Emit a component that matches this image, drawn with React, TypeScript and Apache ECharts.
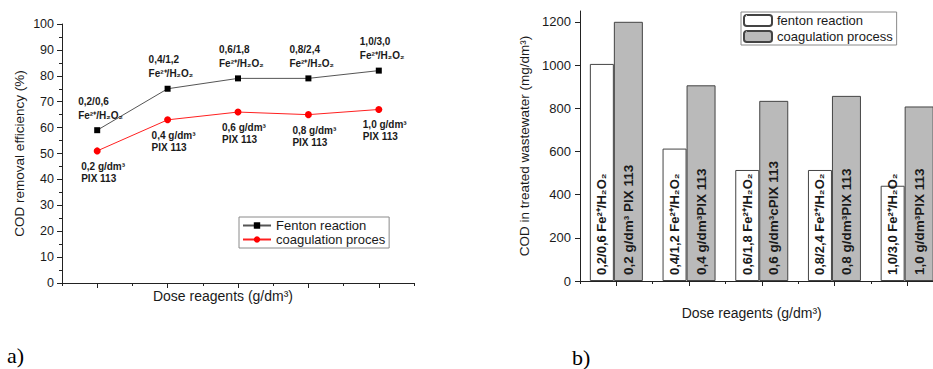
import React, { useEffect, useRef } from "react";
import * as echarts from "echarts";

// ---------- data ----------
const doseCategories = ["0,2", "0,4", "0,6", "0,8", "1,0"];

// panel a) COD removal efficiency (%)
const fentonEfficiency = [59, 75, 79, 79, 82];
const coagulationEfficiency = [51, 63, 66, 65, 67];
const fentonPointLabels = [
  "0,2/0,6\nFe²⁺/H₂O₂",
  "0,4/1,2\nFe²⁺/H₂O₂",
  "0,6/1,8\nFe²⁺/H₂O₂",
  "0,8/2,4\nFe²⁺/H₂O₂",
  "1,0/3,0\nFe²⁺/H₂O₂",
];
const coagulationPointLabels = [
  "0,2 g/dm³\nPIX 113",
  "0,4 g/dm³\nPIX 113",
  "0,6 g/dm³\nPIX 113",
  "0,8 g/dm³\nPIX 113",
  "1,0 g/dm³\nPIX 113",
];

// panel b) COD in treated wastewater (mg/dm3)
const fentonCOD = [1005, 613, 514, 514, 441];
const coagulationCOD = [1200, 906, 834, 857, 808];
const fentonBarLabels = [
  "0,2/0,6 Fe²⁺/H₂O₂",
  "0,4/1,2 Fe²⁺/H₂O₂",
  "0,6/1,8 Fe²⁺/H₂O₂",
  "0,8/2,4 Fe²⁺/H₂O₂",
  "1,0/3,0 Fe²⁺/H₂O₂",
];
const coagulationBarLabels = [
  "0,2 g/dm³ PIX 113",
  "0,4 g/dm³PIX 113",
  "0,6 g/dm³cPIX 113",
  "0,8 g/dm³PIX 113",
  "1,0 g/dm³PIX 113",
];
const codMajorTicks = [0, 200, 400, 600, 800, 1000, 1200];
const codMinorTicks = [100, 300, 500, 700, 900, 1100];

// ---------- styling ----------
const SANS = 'Arial, "Liberation Sans", sans-serif';
const SERIF = '"Liberation Serif", "Times New Roman", serif';
const AXIS_COLOR = "#222";
const TEXT_COLOR = "#1a1a1a";

const axisLine = { show: true, lineStyle: { color: AXIS_COLOR, width: 1 } };

function majorCategoryAxis(gridIndex: number, nameGap: number, padRight: number) {
  return {
    type: "category",
    gridIndex,
    data: doseCategories,
    boundaryGap: true,
    axisLine,
    axisTick: { show: true, alignWithLabel: true, interval: 0, length: 5, lineStyle: { color: AXIS_COLOR } },
    axisLabel: { show: false },
    splitLine: { show: false },
    name: "Dose reagents (g/dm³)",
    nameLocation: "middle",
    nameGap,
    nameTextStyle: { fontSize: 14, color: TEXT_COLOR, fontFamily: SANS, padding: [0, padRight, 0, 0] },
  };
}

function minorCategoryAxis(gridIndex: number) {
  return {
    type: "category",
    gridIndex,
    position: "bottom",
    data: doseCategories,
    boundaryGap: true,
    axisLine: { show: false },
    axisTick: { show: true, alignWithLabel: false, interval: 0, length: 3, lineStyle: { color: AXIS_COLOR } },
    axisLabel: { show: false },
    splitLine: { show: false },
  };
}

const plainNumber = (v: number) => String(v);

const option: any = {
  animation: false,
  backgroundColor: "#fff",
  grid: [
    { left: 62, top: 24, width: 352, height: 259 },
    { left: 580, top: 11, width: 363.5, height: 270 },
  ],
  xAxis: [
    majorCategoryAxis(0, 6, 30),
    minorCategoryAxis(0),
    majorCategoryAxis(1, 25, 20),
    minorCategoryAxis(1),
  ],
  yAxis: [
    {
      type: "value",
      gridIndex: 0,
      min: 0,
      max: 100,
      interval: 10,
      axisLine,
      axisTick: { show: true, length: 5, lineStyle: { color: AXIS_COLOR } },
      minorTick: { show: true, splitNumber: 2, length: 3, lineStyle: { color: AXIS_COLOR } },
      splitLine: { show: false },
      minorSplitLine: { show: false },
      axisLabel: { fontSize: 12.5, color: TEXT_COLOR, fontFamily: SANS, margin: 8, formatter: plainNumber },
      name: "COD removal efficiency (%)",
      nameLocation: "middle",
      nameGap: 36,
      nameTextStyle: { fontSize: 13.5, color: TEXT_COLOR, fontFamily: SANS },
    },
    {
      type: "value",
      gridIndex: 1,
      min: 0,
      max: 1250,
      axisLine,
      axisTick: { show: true, length: 5, customValues: codMajorTicks, lineStyle: { color: AXIS_COLOR } },
      splitLine: { show: false },
      axisLabel: {
        fontSize: 13,
        color: TEXT_COLOR,
        fontFamily: SANS,
        margin: 9,
        customValues: codMajorTicks,
        formatter: plainNumber,
      },
      name: "COD in treated wastewater (mg/dm³)",
      nameLocation: "middle",
      nameGap: 49,
      nameTextStyle: { fontSize: 13.5, color: TEXT_COLOR, fontFamily: SANS },
    },
    {
      type: "value",
      gridIndex: 1,
      min: 0,
      max: 1250,
      axisLine: { show: false },
      axisTick: { show: true, length: 3, customValues: codMinorTicks, lineStyle: { color: AXIS_COLOR } },
      splitLine: { show: false },
      axisLabel: { show: false },
    },
  ],
  legend: [
    {
      data: ["Fenton reaction", "coagulation proces"],
      orient: "vertical",
      left: 239,
      top: 217,
      padding: [2, 4, 2, 3],
      itemGap: 1,
      itemWidth: 28,
      itemHeight: 8,
      borderColor: "#8a8a8a",
      borderWidth: 1,
      selectedMode: false,
      textStyle: { fontSize: 13, color: TEXT_COLOR, fontFamily: SANS },
    },
    {
      data: ["fenton reaction", "coagulation process"],
      orient: "vertical",
      left: 741,
      top: 12,
      padding: [2, 4, 2, 2],
      itemGap: 3,
      itemWidth: 28,
      itemHeight: 11,
      borderColor: "#8a8a8a",
      borderWidth: 1,
      selectedMode: false,
      textStyle: { fontSize: 13, color: TEXT_COLOR, fontFamily: SANS },
    },
  ],
  series: [
    {
      name: "Fenton reaction",
      type: "line",
      xAxisIndex: 0,
      yAxisIndex: 0,
      data: fentonEfficiency,
      symbol: "rect",
      symbolSize: 6,
      itemStyle: { color: "#000" },
      lineStyle: { color: "#555", width: 1 },
      label: {
        show: true,
        position: "top",
        align: "left",
        offset: [-19, 0],
        distance: 5,
        formatter: (p: any) => fentonPointLabels[p.dataIndex],
        fontSize: 10,
        fontWeight: "bold",
        lineHeight: 14,
        color: TEXT_COLOR,
        fontFamily: SANS,
      },
    },
    {
      name: "coagulation proces",
      type: "line",
      xAxisIndex: 0,
      yAxisIndex: 0,
      data: coagulationEfficiency,
      symbol: "circle",
      symbolSize: 7,
      itemStyle: { color: "#ff0000" },
      lineStyle: { color: "#ff2020", width: 1 },
      label: {
        show: true,
        position: "bottom",
        align: "left",
        offset: [-16, 0],
        distance: 6,
        formatter: (p: any) => coagulationPointLabels[p.dataIndex],
        fontSize: 10,
        fontWeight: "bold",
        lineHeight: 12,
        color: TEXT_COLOR,
        fontFamily: SANS,
      },
    },
    {
      name: "fenton reaction",
      type: "bar",
      xAxisIndex: 2,
      yAxisIndex: 1,
      data: fentonCOD,
      barWidth: 24,
      barGap: "0%",
      itemStyle: { color: "#ffffff", borderColor: "#444", borderWidth: 1 },
      label: {
        show: true,
        position: "insideBottom",
        rotate: 90,
        align: "left",
        verticalAlign: "middle",
        distance: 6,
        formatter: (p: any) => fentonBarLabels[p.dataIndex],
        fontSize: 13,
        fontWeight: "bold",
        color: TEXT_COLOR,
        fontFamily: SANS,
      },
    },
    {
      name: "coagulation process",
      type: "bar",
      xAxisIndex: 2,
      yAxisIndex: 1,
      data: coagulationCOD,
      barWidth: 29,
      barGap: "0%",
      itemStyle: { color: "#bababa", borderColor: "#444", borderWidth: 1 },
      label: {
        show: true,
        position: "insideBottom",
        rotate: 90,
        align: "left",
        verticalAlign: "middle",
        distance: 6,
        formatter: (p: any) => coagulationBarLabels[p.dataIndex],
        fontSize: 13.5,
        fontWeight: "bold",
        color: TEXT_COLOR,
        fontFamily: SANS,
      },
    },
  ],
  graphic: [
    { type: "text", left: 7, top: 344, style: { text: "a)", fontSize: 22, fontFamily: SERIF, fill: "#000" } },
    { type: "text", left: 572, top: 346, style: { text: "b)", fontSize: 22, fontFamily: SERIF, fill: "#000" } },
  ],
};

export default function App() {
  const ref = useRef<HTMLDivElement>(null);
  useEffect(() => {
    if (!ref.current) return;
    const chart = echarts.init(ref.current, null, { renderer: "svg" });
    chart.setOption(option);
    return () => chart.dispose();
  }, []);
  return (
    <div
      style={{
        position: "fixed",
        left: 0,
        top: 0,
        width: 933,
        height: 369,
        overflow: "hidden",
        background: "#fff",
      }}
    >
      <div ref={ref} style={{ width: 960, height: 369 }} />
    </div>
  );
}
